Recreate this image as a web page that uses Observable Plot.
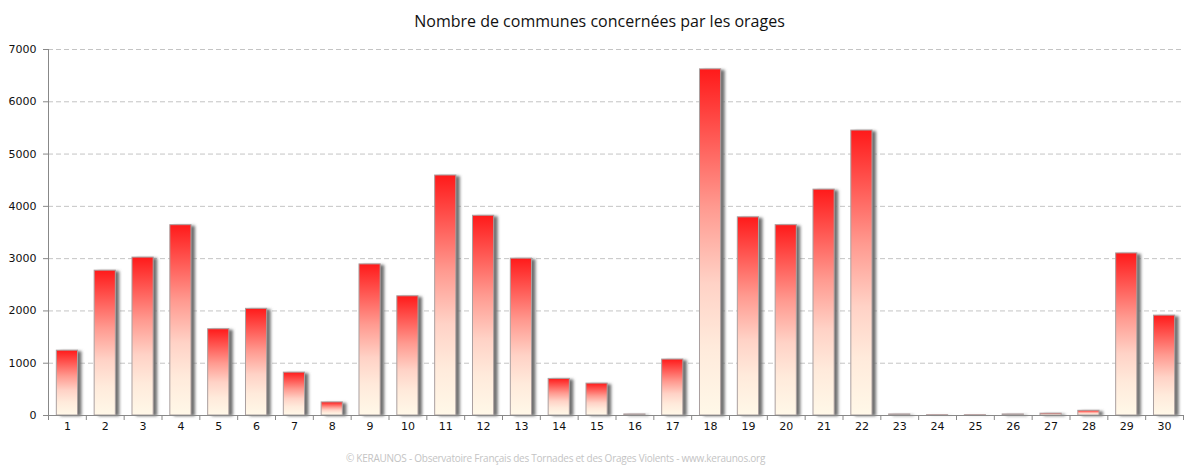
<!DOCTYPE html>
<html>
<head>
<meta charset="utf-8">
<script src="https://cdn.jsdelivr.net/npm/d3@7"></script>
<script src="https://cdn.jsdelivr.net/npm/@observablehq/plot@0.6"></script>
<style>
  html, body { margin: 0; padding: 0; background: #fff; }
  #title { height: 40px; line-height: 42px; text-align: center; font-family: "Open Sans", sans-serif; font-size: 16px; color: #111; width: 1199px; }
  #caption { height: 31px; line-height: 36px; text-align: center; font-family: "Open Sans", sans-serif; font-size: 10px; letter-spacing: -0.25px; color: #c4c4c4; width: 1111px; padding-right: 88px; }
  #chart svg { display: block; }
</style>
</head>
<body>
<div id="title">Nombre de communes concernées par les orages</div>
<div id="chart"></div>
<div id="caption">© KERAUNOS - Observatoire Français des Tornades et des Orages Violents - www.keraunos.org</div>
<script>
const days = [1,2,3,4,5,6,7,8,9,10,11,12,13,14,15,16,17,18,19,20,21,22,23,24,25,26,27,28,29,30];
const communes = [1240,2770,3020,3640,1650,2040,820,250,2890,2280,4590,3820,3000,700,610,20,1070,6620,3790,3640,4320,5450,20,5,5,20,35,90,3100,1910];
const yTicks = [0,1000,2000,3000,4000,5000,6000,7000];

const data = days.map((d, i) => ({day: d, value: communes[i]}));
const half = 0.28;
const boundaries = d3.range(0.5, days.length + 1, 1);

const plot = Plot.plot({
  width: 1199,
  height: 400,
  marginTop: 9,
  marginBottom: 25,
  marginLeft: 48,
  marginRight: 16,
  style: {color: "#888", background: "white"},
  x: {domain: [0.5, 30.5], ticks: boundaries, tickFormat: () => "", tickSize: 5, label: null},
  y: {domain: [0, 7000], ticks: yTicks, tickFormat: () => "", tickSize: 5, label: null},
  marks: [
    Plot.ruleY(yTicks.filter(v => v > 0), {stroke: "#c4c4c4", strokeDasharray: "5,3"}),
    Plot.rectY(data, {x1: d => d.day - half, x2: d => d.day + half, y1: 0, y2: "value", dx: 4, dy: 1, fill: "#707070"}),
    Plot.rectY(data, {x1: d => d.day - half, x2: d => d.day + half, y1: 0, y2: "value", fill: "url(#barGrad)", stroke: "#aaa0a0", strokeWidth: 1}),
    Plot.ruleX([0.5], {stroke: "#888"}),
    Plot.ruleY([0], {stroke: "#888"}),
    Plot.text(days, {x: d => d, text: d => String(d), frameAnchor: "bottom", dy: 14, fill: "#111", fontSize: 11, fontFamily: "DejaVu Sans"}),
    Plot.text(yTicks, {y: d => d, text: d => String(d), frameAnchor: "left", dx: -12, textAnchor: "end", fill: "#111", fontSize: 11, fontFamily: "DejaVu Sans"})
  ]
});

const svg = d3.select(plot);
const defs = svg.insert("defs", ":first-child");
const grad = defs.append("linearGradient").attr("id", "barGrad").attr("x1", 0).attr("y1", 0).attr("x2", 0).attr("y2", 1);
grad.append("stop").attr("offset", "0%").attr("stop-color", "#ff1a1a");
grad.append("stop").attr("offset", "40%").attr("stop-color", "#ff9a90");
grad.append("stop").attr("offset", "62%").attr("stop-color", "#ffd2c6");
grad.append("stop").attr("offset", "80%").attr("stop-color", "#ffeadb");
grad.append("stop").attr("offset", "100%").attr("stop-color", "#fff8e8");
const f = defs.append("filter").attr("id", "shadowBlur").attr("x", "-50%").attr("y", "-10%").attr("width", "200%").attr("height", "120%");
f.append("feGaussianBlur").attr("stdDeviation", 1.5);
svg.selectAll("g").filter(function() { return this.getAttribute("fill") === "#707070"; })
  .attr("filter", "url(#shadowBlur)").attr("opacity", 1);

document.getElementById("chart").appendChild(plot);
</script>
</body>
</html>
